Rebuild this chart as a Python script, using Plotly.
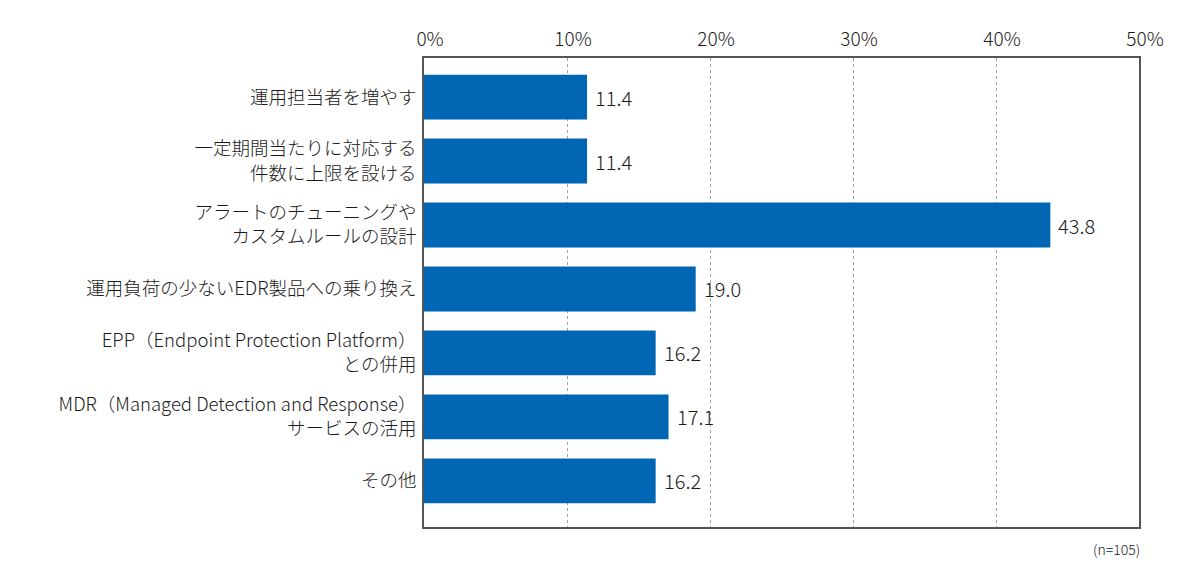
import plotly.graph_objects as go

categories = [
    "運用担当者を増やす",
    "一定期間当たりに対応する<br>件数に上限を設ける",
    "アラートのチューニングや<br>カスタムルールの設計",
    "運用負荷の少ないEDR製品への乗り換え",
    "EPP（Endpoint Protection Platform）<br>との併用",
    "MDR（Managed Detection and Response）<br>サービスの活用",
    "その他",
]
values = [11.4, 11.4, 43.8, 19.0, 16.2, 17.1, 16.2]
x_ticks = [0, 10, 20, 30, 40, 50]
x_tick_labels = ["0%", "10%", "20%", "30%", "40%", "50%"]
note = "(n=105)"

FONT = "Noto Sans CJK JP"
TXT = "#1a1a1a"

fig = go.Figure(
    go.Bar(
        x=values,
        y=categories,
        orientation="h",
        marker=dict(color="#0066b3", line=dict(width=0)),
        width=0.7,
        hoverinfo="x+y",
    )
)

annotations = [
    dict(
        x=v,
        y=c,
        xref="x",
        yref="y",
        text=f"{v:.1f}",
        xanchor="left",
        yanchor="middle",
        xshift=6,
        showarrow=False,
        font=dict(family=FONT, size=20, color=TXT, weight=300),
    )
    for c, v in zip(categories, values)
]
annotations.append(
    dict(
        text=note,
        xref="paper",
        yref="paper",
        x=1.0,
        y=-0.022,
        xanchor="right",
        yanchor="top",
        xshift=3,
        showarrow=False,
        font=dict(family=FONT, size=14, color=TXT, weight=300),
    )
)

fig.update_layout(
    width=1184,
    height=562,
    margin=dict(l=416, r=53, t=50, b=43),
    paper_bgcolor="white",
    plot_bgcolor="white",
    showlegend=False,
    font=dict(family=FONT, color=TXT, weight=300),
    xaxis=dict(
        side="top",
        range=[0, 50],
        tickvals=x_ticks,
        ticktext=x_tick_labels,
        tickfont=dict(family=FONT, size=19, color=TXT, weight=300),
        ticklabelshift=6,
        ticklabelstandoff=3,
        showgrid=True,
        gridcolor="#a0a0a0",
        griddash="dot",
        gridwidth=1,
        showline=True,
        linecolor="#555555",
        linewidth=1.5,
        mirror=True,
        zeroline=False,
        ticks="",
        ticklen=0,
    ),
    yaxis=dict(
        categoryorder="array",
        categoryarray=categories,
        range=[6.72, -0.61],
        tickfont=dict(family=FONT, size=18.5, color=TXT, weight=300),
        ticklabelstandoff=2,
        showline=True,
        linecolor="#555555",
        linewidth=1.5,
        mirror=True,
        showgrid=False,
        ticks="",
        ticklen=0,
    ),
    annotations=annotations,
)

fig.write_html("out.html")
